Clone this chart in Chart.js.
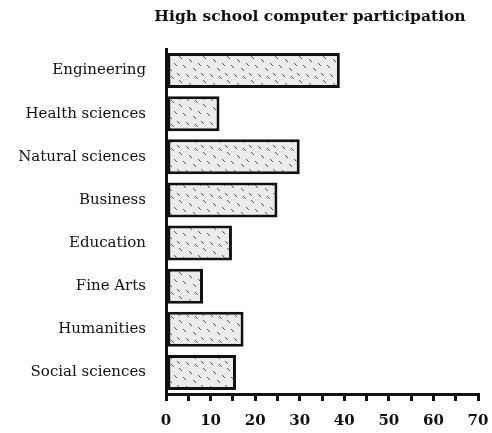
<!DOCTYPE html>
<html>
<head>
<meta charset="utf-8">
<script src="https://cdn.jsdelivr.net/npm/chart.js@4.4.0/dist/chart.umd.min.js"></script>
<style>
  html, body { margin: 0; padding: 0; background: #fff; }
  #wrap { width: 492px; height: 433px; }
</style>
</head>
<body>
<div id="wrap"><canvas id="myBarChart"></canvas></div>
<script>
var fields = ["Engineering", "Health sciences", "Natural sciences", "Business",
              "Education", "Fine Arts", "Humanities", "Social sciences"];
var participation = [39, 12, 30, 25, 14.8, 8.3, 17.4, 15.7];
var tickValues = [0, 10, 20, 30, 40, 50, 60, 70];

// stippled grey fill like the scanned hatching
function makeHatch() {
    var c = document.createElement('canvas');
    c.width = 24; c.height = 24;
    var g = c.getContext('2d');
    g.fillStyle = '#ebebeb';
    g.fillRect(0, 0, 24, 24);
    g.strokeStyle = '#555';
    g.lineWidth = 1;
    var marks = [[3, 4], [11, 8], [18, 2], [6, 15], [15, 17], [21, 11], [1, 20], [9, 1]];
    marks.forEach(function (m) {
        g.beginPath();
        g.moveTo(m[0], m[1]);
        g.lineTo(m[0] + 3, m[1] + 3);
        g.stroke();
    });
    return g.createPattern(c, 'repeat');
}

var titlePlugin = {
    id: 'scanTitle',
    afterDraw: function (chart) {
        var ctx = chart.ctx;
        ctx.save();
        ctx.font = 'bold 15.5px "DejaVu Serif"';
        ctx.fillStyle = '#111';
        ctx.textAlign = 'center';
        ctx.textBaseline = 'middle';
        ctx.fillText('High school computer participation', 310, 17);
        ctx.restore();
    }
};

var ctx = document.getElementById("myBarChart").getContext('2d');
var myBarChart = new Chart(ctx, {
    type: 'bar',
    data: {
        labels: fields,
        datasets: [{
            label: "Participation",
            data: participation,
            backgroundColor: makeHatch(),
            borderColor: "#111",
            borderWidth: 3,
            borderSkipped: false,
            barPercentage: 0.81,
            categoryPercentage: 1.0
        }]
    },
    plugins: [titlePlugin],
    options: {
        indexAxis: 'y',
        responsive: true,
        maintainAspectRatio: false,
        animation: false,
        layout: {
            padding: { top: 49, right: 14, bottom: 0, left: 4 }
        },
        scales: {
            x: {
                min: 0,
                max: 70,
                ticks: {
                    stepSize: 5,
                    color: '#111',
                    font: { family: '"DejaVu Serif"', size: 15, weight: 'bold' },
                    padding: 11,
                    maxRotation: 0,
                    autoSkip: false,
                    callback: function (v) {
                        return tickValues.indexOf(v) >= 0 ? String(v) : '';
                    }
                },
                grid: {
                    drawOnChartArea: false,
                    color: '#111',
                    lineWidth: 3,
                    tickLength: 7
                },
                border: { color: '#111', width: 3 },
                afterFit: function (scale) {
                    scale.height = 39;
                    scale.paddingLeft = 0;
                    scale.paddingRight = 0;
                }
            },
            y: {
                ticks: {
                    color: '#111',
                    font: { family: '"DejaVu Serif"', size: 15 },
                    padding: 12
                },
                grid: { display: false },
                border: { display: true, color: '#111', width: 3 },
                afterFit: function (scale) { scale.width = 162; }
            }
        },
        plugins: {
            legend: { display: false },
            tooltip: { enabled: false }
        }
    }
});
</script>
</body>
</html>
